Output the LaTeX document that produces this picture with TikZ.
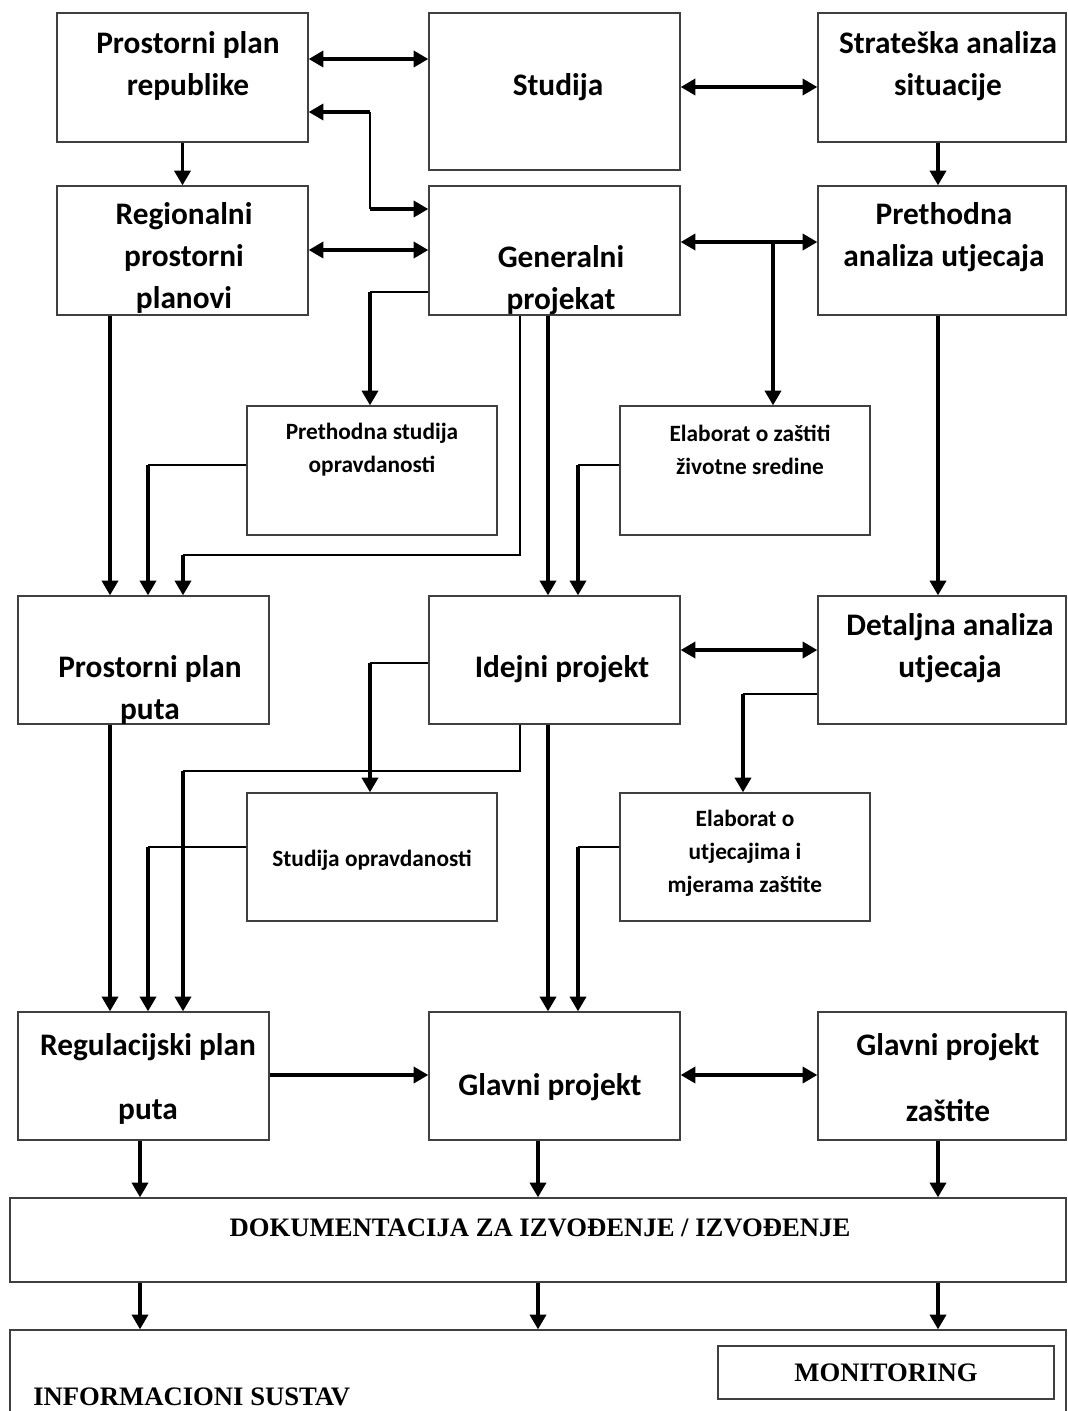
\documentclass[tikz,border=0pt]{standalone}
\usepackage{fontspec}
\setmainfont{Carlito}
\newfontfamily\serifb{Liberation Serif}
\usetikzlibrary{arrows.meta,fit}

\begin{document}
\begin{tikzpicture}[x=0.75pt, y=-0.75pt,
  box/.style={draw=black!75, line width=1pt, inner sep=0pt},
  txt/.style={align=center, inner sep=0pt, font=\bfseries\fontsize{23.5}{31.5}\selectfont},
  stxt/.style={align=center, inner sep=0pt, font=\bfseries\fontsize{17.5}{24.75}\selectfont},
  rtxt/.style={inner sep=0pt, font=\serifb\bfseries\fontsize{20}{24}\selectfont},
  arr/.style={line width=2.6pt, -{Triangle[length=11pt,width=12pt]}},
  darr/.style={line width=2.6pt, {Triangle[length=11pt,width=12pt]}-{Triangle[length=11pt,width=12pt]}},
  conn/.style={line width=1pt}]
\useasboundingbox (0,0) rectangle (1068,1411);
%top row
\node[box, fit={(57,13) (308,142)}] (rep) {};
\node[box, fit={(429,13) (680,170)}] (stud) {};
\node[box, fit={(818,13) (1066,142)}] (strat) {};
\node[txt] (rep-t) at (188,66) {Prostorni plan\\republike};
\node[txt] (stud-t) at (558,87) {Studija};
\node[txt] (strat-t) at (948,66) {Strateška analiza\\situacije};
%second row
\node[box, fit={(57,186) (308,315)}] (reg) {};
\node[box, fit={(429,186) (680,315)}] (gen) {};
\node[box, fit={(818,186) (1066,315)}] (pan) {};
\node[txt] (reg-t) at (184,258) {Regionalni\\prostorni\\planovi};
\node[txt] (gen-t) at (561,280) {Generalni\\projekat};
\node[txt] (pan-t) at (944,237) {Prethodna\\analiza utjecaja};
\node[box, fit={(247,406) (497,535)}] (pso) {};
\node[box, fit={(620,406) (870,535)}] (ezs) {};
\node[stxt] (pso-t) at (372,450) {Prethodna studija\\opravdanosti};
\node[stxt] (ezs-t) at (750,450) {Elaborat o zaštiti\\životne sredine};
%third row
\node[box, fit={(18,596) (269,724)}] (ppp) {};
\node[box, fit={(429,596) (680,724)}] (idp) {};
\node[box, fit={(818,596) (1066,724)}] (dau) {};
\node[txt] (ppp-t) at (150,690) {Prostorni plan\\puta};
\node[txt] (idp-t) at (562,669) {Idejni projekt};
\node[txt] (dau-t) at (950,648) {Detaljna analiza\\utjecaja};
\node[box, fit={(247,793) (497,921)}] (sop) {};
\node[box, fit={(620,793) (870,921)}] (eum) {};
\node[stxt] (sop-t) at (372,860) {Studija opravdanosti};
\node[stxt] (eum-t) at (745,853) {Elaborat o\\utjecajima i\\mjerama zaštite};
%fourth row
\node[box, fit={(18,1012) (269,1140)}] (rpp) {};
\node[box, fit={(429,1012) (680,1140)}] (glp) {};
\node[box, fit={(818,1012) (1066,1140)}] (gpz) {};
\node[txt] (rpp-t) at (148,1079) {Regulacijski plan\\[16.5pt]puta};
\node[txt] (glp-t) at (550,1087) {Glavni projekt};
\node[txt] (gpz-t) at (948,1078) {Glavni projekt\\[18pt]zaštite};
%bottom
\node[box, fit={(10,1198) (1066,1282)}] (dok) {};
\node[box, fit={(10,1330) (1066,1430)}] (info) {};
\node[rtxt] (dok-t) at (540,1228) {DOKUMENTACIJA ZA IZVOĐENJE / IZVOĐENJE};
\node[rtxt, anchor=west] (info-t) at (33,1397) {INFORMACIONI SUSTAV};
\node[box, rtxt, minimum width=252pt, minimum height=39.75pt] (mon) at (886,1372.5) {MONITORING};

%junctions
\coordinate (j1) at (370,112);
\coordinate (j2) at (370,209);
\coordinate (j3) at (773,242);
\coordinate (j4) at (370,292);
\coordinate (j5) at (520,555);
\coordinate (j6) at (183,555);
\coordinate (j7) at (148,465);
\coordinate (j8) at (578,465);
\coordinate (j9) at (370,663);
\coordinate (j10) at (520,771);
\coordinate (j11) at (183,771);
\coordinate (j12) at (148,847);
\coordinate (j13) at (743,694);
\coordinate (j14) at (578,847);

%top arrows
\draw[darr] (rep.east |- 0,59) -- (stud.west |- 0,59);
\draw[darr] (stud.east |- 0,87) -- (strat.west |- 0,87);
\draw[arr] (j1) -- (rep.east |- j1);
\draw[conn] (j1) -- (j2);
\draw[arr] (j2) -- (gen.west |- j2);
\draw[arr] (rep.south) -- (reg.north);
\draw[arr] (strat.south -| 938,0) -- (pan.north -| 938,0);
\draw[darr] (reg.east |- 0,250) -- (gen.west |- 0,250);
\draw[darr] (gen.east |- j3) -- (pan.west |- j3);
\draw[arr] (j3) -- (j3 |- ezs.north);
%from generalni projekat
\draw[conn] (gen.west |- j4) -- (j4);
\draw[arr] (j4) -- (j4 |- pso.north);
\draw[conn] (gen.south -| j5) -- (j5) -- (j6);
\draw[arr] (j6) -- (j6 |- ppp.north);
\draw[arr] (gen.south -| 548,0) -- (idp.north -| 548,0);
\draw[arr] (reg.south -| 110,0) -- (ppp.north -| 110,0);
\draw[conn] (pso.west |- j7) -- (j7);
\draw[arr] (j7) -- (j7 |- ppp.north);
\draw[conn] (ezs.west |- j8) -- (j8);
\draw[arr] (j8) -- (j8 |- idp.north);
\draw[arr] (pan.south -| 938,0) -- (dau.north -| 938,0);
%from idejni projekt
\draw[darr] (idp.east |- 0,650) -- (dau.west |- 0,650);
\draw[conn] (idp.west |- j9) -- (j9);
\draw[arr] (j9) -- (j9 |- sop.north);
\draw[conn] (idp.south -| j10) -- (j10) -- (j11);
\draw[arr] (j11) -- (j11 |- rpp.north);
\draw[arr] (idp.south -| 548,0) -- (glp.north -| 548,0);
\draw[arr] (ppp.south -| 110,0) -- (rpp.north -| 110,0);
\draw[conn] (sop.west |- j12) -- (j12);
\draw[arr] (j12) -- (j12 |- rpp.north);
\draw[conn] (dau.west |- j13) -- (j13);
\draw[arr] (j13) -- (j13 |- eum.north);
\draw[conn] (eum.west |- j14) -- (j14);
\draw[arr] (j14) -- (j14 |- glp.north);
%bottom arrows
\draw[arr] (rpp.east |- 0,1075) -- (glp.west |- 0,1075);
\draw[darr] (glp.east |- 0,1075) -- (gpz.west |- 0,1075);
\draw[arr] (rpp.south -| 140,0) -- (dok.north -| 140,0);
\draw[arr] (glp.south -| 538,0) -- (dok.north -| 538,0);
\draw[arr] (gpz.south -| 938,0) -- (dok.north -| 938,0);
\foreach \x in {140,538,938}{
	\draw[arr] (dok.south -| \x,0) -- (info.north -| \x,0);
}
\end{tikzpicture}
\end{document}
